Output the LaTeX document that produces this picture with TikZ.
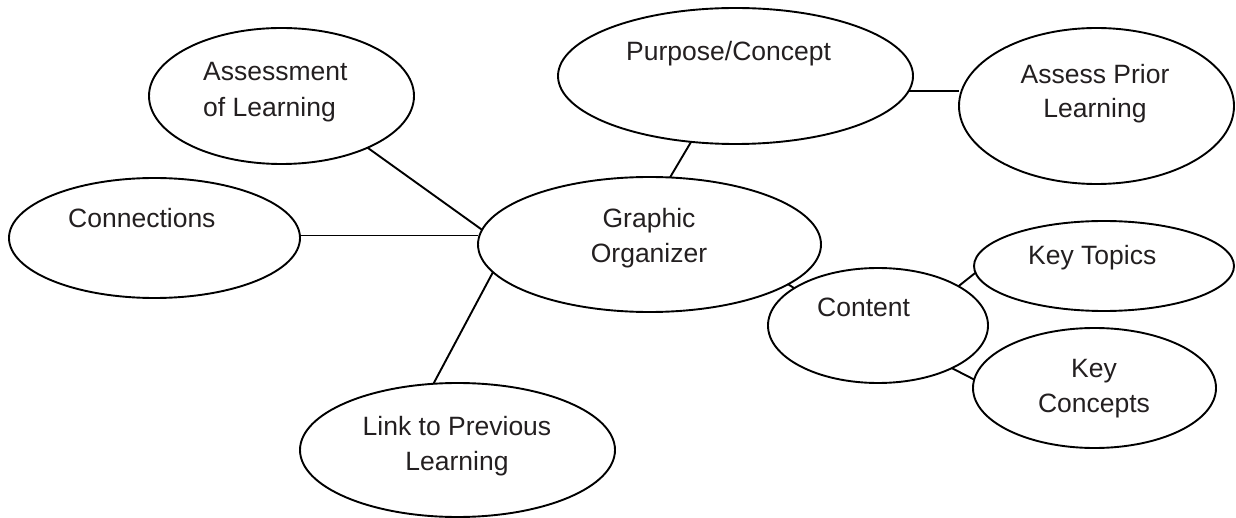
\documentclass[tikz,border=0pt]{standalone}
\usepackage{fontspec}
\setmainfont{Liberation Sans}
\usetikzlibrary{shapes.geometric}
\definecolor{txt}{RGB}{35,31,32}
\begin{document}
\begin{tikzpicture}[x=1pt,y=-1pt,
  bubble/.style={draw=black, line width=1.9pt, ellipse, inner sep=0pt, outer sep=0pt},
  lbl/.style={inner sep=0pt, text=txt, font=\fontsize{26.5}{32}\selectfont},
  link/.style={draw=black, line width=1.9pt}]
\useasboundingbox (0,0) rectangle (1236,518);
% ellipses
\node[bubble, minimum width=265pt, minimum height=136pt] (assess) at (281.5,96) {};
\node[bubble, minimum width=291pt, minimum height=120pt] (conn) at (154.5,238) {};
\node[bubble, minimum width=355pt, minimum height=136pt] (purp) at (735.5,76) {};
\node[bubble, minimum width=275pt, minimum height=156pt] (prior) at (1096.5,106) {};
\node[bubble, minimum width=343pt, minimum height=135pt] (go) at (649.5,244.5) {};
\node[bubble, minimum width=220pt, minimum height=115pt] (content) at (878,325.5) {};
\node[bubble, minimum width=260pt, minimum height=90pt] (topics) at (1104,266) {};
\node[bubble, minimum width=243pt, minimum height=120pt] (concepts) at (1094.5,388) {};
\node[bubble, minimum width=315pt, minimum height=134pt] (prev) at (457.5,450) {};
% labels
\node[lbl, anchor=base west] (tassess1) at (203,81) {Assessment};
\node[lbl, anchor=base west] (tassess2) at (203,117) {of Learning};
\node[lbl, anchor=base west] (tconn) at (68,228) {Connections};
\node[lbl, anchor=base west] (tpurp) at (626,61) {Purpose/Concept};
\node[lbl, anchor=base] (tprior1) at (1095,84) {Assess Prior};
\node[lbl, anchor=base] (tprior2) at (1095,118) {Learning};
\node[lbl, anchor=base] (tgo1) at (649,228) {Graphic};
\node[lbl, anchor=base] (tgo2) at (649,263) {Organizer};
\node[lbl, anchor=base west] (tcontent) at (817,317) {Content};
\node[lbl, anchor=base west] (ttopics) at (1028,265) {Key Topics};
\node[lbl, anchor=base] (tconcepts1) at (1094,377) {Key};
\node[lbl, anchor=base] (tconcepts2) at (1094,412) {Concepts};
\node[lbl, anchor=base] (tprev1) at (457,435) {Link to Previous};
\node[lbl, anchor=base] (tprev2) at (457,470) {Learning};
% connectors
\draw[link] (assess.-31.8) -- (go.175.8);
\draw[link] (conn.1.6) -- (conn.1.6 -| go.west);
\draw[link] (prev.110.8) -- (go.190.3);
\draw[link] (purp.236.6) -- (go.73.9);
\draw[link] (purp.-5) -- (purp.-5 -| prior.west);
\draw[link] (go.-16.4) -- (content.156.2);
\draw[link] (content.26.3) -- (topics.183.1);
\draw[link] (content.-30.9) -- (concepts.176.2);
\end{tikzpicture}
\end{document}
